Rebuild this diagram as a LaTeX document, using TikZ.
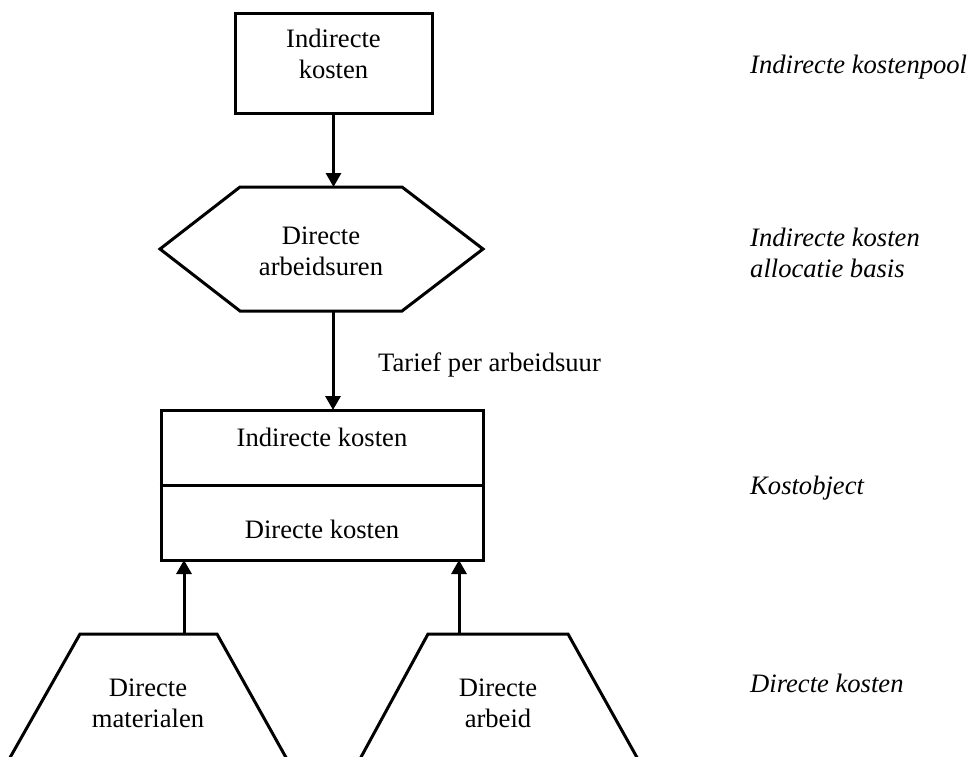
\documentclass[tikz,border=0pt]{standalone}
\usepackage{fontspec}
\setmainfont{Liberation Serif}
\usetikzlibrary{arrows.meta}
\tikzset{
  txt/.style={font=\fontsize{26.6}{30.5}\selectfont, inner sep=0pt, align=center, anchor=base},
  lbl/.style={font=\fontsize{26.6}{30.5}\selectfont\itshape, inner sep=0pt, align=left, anchor=base west},
  shp/.style={draw, line width=3pt, line join=miter},
  boxnode/.style={shp, rectangle, inner sep=0pt},
  conn/.style={line width=3pt, -{Triangle[width=15pt,length=14pt]}}
}
\begin{document}
\begin{tikzpicture}[x=1pt, y=-1pt]
\useasboundingbox (0,0) rectangle (971,756);
\clip (0,0) rectangle (971,756);
\fill[white] (0,0) rectangle (971,756);

% top box
\node[boxnode, minimum width=197pt, minimum height=100pt] (pool) at (333.5,63) {};
\node[txt] (poolt) at (333.5,78) {Indirecte\\kosten};

% hexagon
\draw[shp] (160,249) -- (240,187) -- (402,187) -- (483,249) -- (402,311) -- (240,311) -- cycle;
\coordinate (hexT) at (333.5,187);
\coordinate (hexB) at (333,311);
\node[txt] (hext) at (321,275) {Directe\\arbeidsuren};

% cost object box
\node[boxnode, minimum width=322pt, minimum height=150pt] (ko) at (322,485) {};
\draw[line width=3pt] (ko.west) -- (ko.east);
\node[txt] (kot1) at (322,446) {Indirecte kosten};
\node[txt] (kot2) at (322,538) {Directe kosten};
\coordinate (koT) at (333,410);
\coordinate (koBL) at (184,560);
\coordinate (koBR) at (459,560);

% trapezoids
\draw[shp] (3,770) -- (80,634) -- (217,634) -- (293,770);
\draw[shp] (354,770) -- (428,634) -- (568,634) -- (644,770);
\coordinate (tlT) at (184,634);
\coordinate (trT) at (459,634);
\node[txt] (tlt) at (148,727) {Directe\\materialen};
\node[txt] (trt) at (498,727) {Directe\\arbeid};

% connectors
\draw[conn] (pool.south -| hexT) -- (hexT);
\draw[conn] (hexB) -- (koT);
\draw[conn] (tlT) -- (koBL);
\draw[conn] (trT) -- (koBR);

\node[txt, anchor=base west] (tarief) at (378,371) {Tarief per arbeidsuur};

% right labels
\node[lbl] (l1) at (750,73) {Indirecte kostenpool};
\node[lbl] (l2) at (750,277) {Indirecte kosten\\allocatie basis};
\node[lbl] (l3) at (750,494) {Kostobject};
\node[lbl] (l4) at (750,692) {Directe kosten};
\end{tikzpicture}
\end{document}
